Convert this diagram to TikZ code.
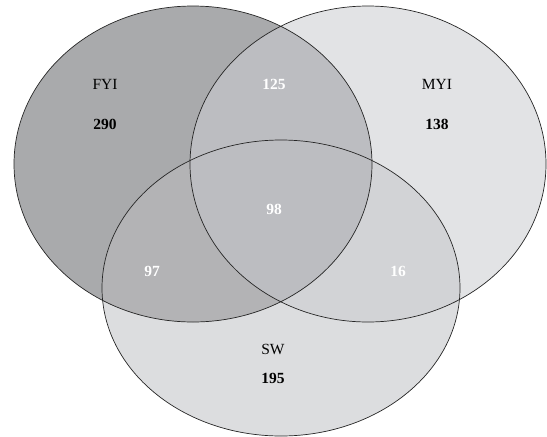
\documentclass[tikz,border=0pt]{standalone}
\usepackage{fontspec}
\setmainfont{Liberation Serif}
\definecolor{fyicol}{RGB}{169,170,172}
\definecolor{myicol}{RGB}{226,227,229}
\definecolor{swcol}{RGB}{220,221,223}
\definecolor{fyimyicol}{RGB}{188,189,193}
\definecolor{fyiswcol}{RGB}{179,179,181}
\definecolor{myiswcol}{RGB}{210,211,214}

\begin{document}
\begin{tikzpicture}[x=1pt, y=-1pt, font=\fontsize{15.5}{18}\selectfont,
  outline/.style={color=black!85, line width=.7pt},
  count/.style={font=\fontsize{15.5}{18}\selectfont\bfseries},
  inner/.style={count, text=white}]
	\useasboundingbox (0,0) rectangle (547,437);
	% fills
	\fill[myicol] (368,164) ellipse [x radius=178, y radius=158];
	\fill[swcol] (281,288) ellipse [x radius=179, y radius=148];
	\begin{scope}
	  \clip (368,164) ellipse [x radius=178, y radius=158];
	  \fill[myiswcol] (281,288) ellipse [x radius=179, y radius=148];
	\end{scope}
	\fill[fyicol] (193,164) ellipse [x radius=179, y radius=158];
	\begin{scope}
	  \clip (193,164) ellipse [x radius=179, y radius=158];
	  \fill[fyiswcol] (281,288) ellipse [x radius=179, y radius=148];
	  \fill[fyimyicol] (368,164) ellipse [x radius=178, y radius=158];
	\end{scope}
	% outlines
	\draw[outline] (193,164) ellipse [x radius=179, y radius=158];
	\draw[outline] (368,164) ellipse [x radius=178, y radius=158];
	\draw[outline] (281,288) ellipse [x radius=179, y radius=148];
	% labels
	\node (fyi) at (105,84) {FYI};
	\node[count] (fyin) at (105,124) {290};
	\node (myi) at (437,84) {MYI};
	\node[count] (myin) at (437,124) {138};
	\node (sw) at (273,349) {SW};
	\node[count] (swn) at (273,378) {195};
	\node[inner] (fyimyi) at (274,84) {125};
	\node[inner] (all) at (274,209) {98};
	\node[inner] (fyisw) at (152,271) {97};
	\node[inner] (myisw) at (398,271) {16};
\end{tikzpicture}
\end{document}
